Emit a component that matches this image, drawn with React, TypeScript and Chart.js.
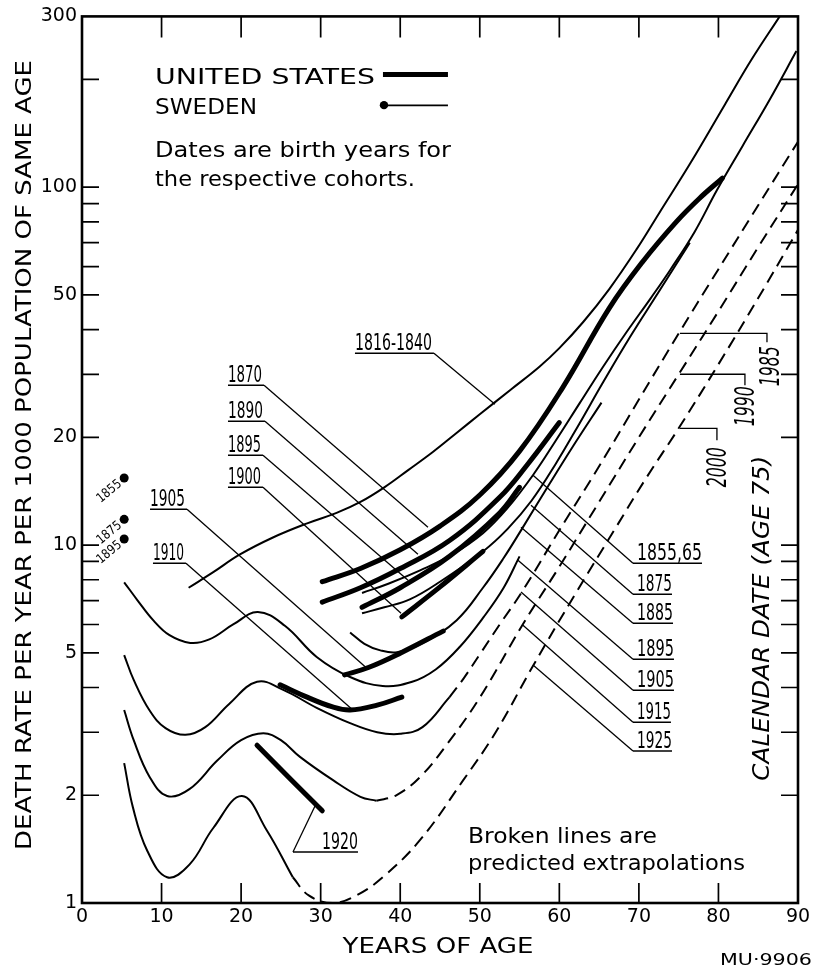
import React, { useEffect, useRef } from 'react';
import { Chart, registerables } from 'chart.js';

Chart.register(...registerables);

type P = [number, number];

// ---------- axes ----------
const ageMin = 0;
const ageMax = 90;
const rateMin = 1;
const rateMax = 300;
const rateTickLabels = [1, 2, 5, 10, 20, 50, 100, 300];
const rateMinorTicks = [2, 3, 4, 5, 6, 7, 8, 9, 10, 20, 30, 40, 50, 60, 70, 80, 90, 100, 200];
const ageInnerTicks = [10, 20, 30, 40, 50, 60, 70, 80];

// ---------- Sweden cohorts (thin) : [age, death rate per 1000] ----------
const sweden1816_1840: P[] = [[13.4, 7.6], [16.5, 8.4], [19.8, 9.4], [24, 10.5], [28.3, 11.5], [32, 12.3], [35, 13.2], [38, 14.5], [41, 16.2], [44.1, 18.2], [47, 20.5], [50, 23.2], [54, 27.3], [57.5, 31.5], [60, 35.5], [63, 42], [66.3, 52], [69.7, 67], [72.6, 85], [76.5, 117], [80.8, 170], [84.2, 228], [87.7, 300]];
const sweden1855_65: P[] = [[35.2, 7.35], [38.5, 7.8], [42.5, 8.5], [46.5, 9.4], [50.4, 10.8], [53.5, 12.7], [56.7, 15.7], [59.5, 19.5], [62.6, 25], [65.5, 31.5], [68.5, 39.5], [71.5, 49], [74, 59], [77, 75], [79.8, 98], [83, 130], [86.4, 175], [89.8, 240]];
const sweden1875: P[] = [[35.2, 6.45], [38, 6.7], [41.2, 7.05], [45, 7.9], [50.4, 9.6], [53.5, 11.1], [56.5, 13.3], [59.5, 16.8], [62.5, 21.8], [65.5, 28.5], [69, 38.5], [72.5, 51], [76.4, 70]];
const sweden1885: P[] = [[33.7, 5.7], [35.5, 5.3], [37.5, 5.08], [39.6, 5.02], [42.8, 5.32], [47.1, 6.17], [50.4, 7.6], [53, 9.2], [55.3, 11.1], [58.5, 14.5], [61.8, 19], [65.3, 25]];
const sweden1895: P[] = [[5.3, 7.87], [7, 7.0], [9, 6.15], [11, 5.6], [13.6, 5.33], [16, 5.45], [19, 6.0], [22.1, 6.5], [25.5, 5.95], [29.5, 4.87], [33.7, 4.28], [37.8, 4.04], [41.5, 4.15], [44.5, 4.5], [47.5, 5.2], [50.5, 6.3], [53, 7.6], [55, 9.3]];
const sweden1905: P[] = [[5.3, 4.93], [6.5, 4.2], [8.5, 3.45], [10.5, 3.08], [13, 2.95], [15.5, 3.1], [18.5, 3.6], [22, 4.15], [25.3, 3.94], [29.5, 3.51], [33.7, 3.18], [37.1, 3.0], [40, 2.97], [42.8, 3.1], [46.2, 3.76]];
const sweden1905Predicted: P[] = [[46.2, 3.76], [48, 4.25], [50, 4.95], [52.5, 6.0], [55.3, 7.4], [60, 11.0], [65, 16.6], [70, 25.5], [75, 39], [80, 59], [85, 89], [90, 134]];
const sweden1915: P[] = [[5.3, 3.46], [6.5, 2.85], [8.5, 2.25], [10.7, 1.99], [13.5, 2.08], [17, 2.5], [20, 2.85], [22.8, 2.98], [25, 2.85], [27.4, 2.56], [31.6, 2.2], [35, 1.98], [37, 1.93]];
const sweden1915Predicted: P[] = [[37, 1.93], [39.5, 2.0], [42.5, 2.25], [46, 2.8], [50, 3.75], [55.4, 6.0], [60, 8.7], [65, 13.2], [70, 20], [75, 30], [80, 45], [85, 68], [90, 102]];
const sweden1925: P[] = [[5.3, 2.46], [6.4, 1.85], [8.2, 1.4], [10.7, 1.18], [13.5, 1.28], [16.5, 1.62], [20.1, 1.99], [23.2, 1.6], [26.5, 1.18]];
const sweden1925Predicted: P[] = [[26.5, 1.18], [28.5, 1.05], [31.5, 1.0], [34.5, 1.05], [37.8, 1.18], [42.5, 1.5], [47.9, 2.2], [52, 3.0], [56.7, 4.6], [62, 7.3], [67, 11.1], [71, 15.5], [75, 21.2], [80, 32], [85, 49], [90, 76]];

// Sweden rates at age 5 (dots)
const swedenAge5Cohorts = ['1855', '1875', '1895'];
const swedenAge5Ages = [5.3, 5.3, 5.3];
const swedenAge5Rates = [15.4, 11.8, 10.4];

// ---------- United States cohorts (thick) ----------
const us1870: P[] = [[30.2, 7.9], [35, 8.6], [40, 9.7], [45, 11.3], [50, 13.8], [55, 18.3], [60.4, 27.5], [66.3, 46], [70.5, 62], [74.7, 80], [77.6, 93], [80.5, 106]];
const us1890: P[] = [[30.2, 6.93], [35, 7.6], [40, 8.6], [46.2, 10.3], [52.5, 13.6], [56, 16.8], [60, 22]];
const us1895: P[] = [[35.2, 6.7], [40, 7.6], [46.2, 9.3], [52.5, 12.3], [55, 14.5]];
const us1900: P[] = [[40.2, 6.3], [45, 7.64], [50.4, 9.6]];
const us1905: P[] = [[33, 4.34], [36, 4.55], [40, 4.99], [45.4, 5.75]];
const us1910: P[] = [[24.9, 4.07], [28.3, 3.76], [31.5, 3.53], [33.7, 3.46], [37.1, 3.57], [40.2, 3.76]];
const us1920: P[] = [[22, 2.76], [26.1, 2.23], [30.2, 1.81]];

// ---------- annotation text ----------
type Lbl = { text: string; x0: number; x1: number; r: number; to: P; side: 'left' | 'right'; tx?: number };
const cohortLabels: Lbl[] = [
  { text: '1816-1840', x0: 34.31, x1: 44.24, r: 34.35, to: [51.91, 24.75], side: 'left' },
  { text: '1870', x0: 18.35, x1: 22.88, r: 27.96, to: [43.49, 11.22], side: 'left' },
  { text: '1890', x0: 18.35, x1: 23.0, r: 22.18, to: [42.23, 9.43], side: 'left' },
  { text: '1895', x0: 18.35, x1: 22.75, r: 17.83, to: [40.98, 7.98], side: 'left' },
  { text: '1900', x0: 18.35, x1: 22.75, r: 14.51, to: [40.1, 6.45], side: 'left' },
  { text: '1905', x0: 8.55, x1: 13.2, r: 12.6, to: [35.95, 4.5], side: 'left' },
  { text: '1910', x0: 8.92, x1: 13.07, r: 8.9, to: [33.94, 3.48], side: 'left' },
  { text: '1920', x0: 26.52, x1: 34.69, r: 1.388, to: [29.29, 1.866], side: 'right', tx: 30.17 },
  { text: '1855,65', x0: 69.26, x1: 77.93, r: 8.9, to: [56.69, 15.67], side: 'right', tx: 69.76 },
  { text: '1875', x0: 69.26, x1: 74.16, r: 7.29, to: [56.44, 12.93], side: 'right', tx: 69.76 },
  { text: '1885', x0: 69.26, x1: 74.29, r: 6.05, to: [55.18, 11.22], side: 'right', tx: 69.76 },
  { text: '1895', x0: 69.26, x1: 74.41, r: 4.8, to: [54.8, 9.07], side: 'right', tx: 69.76 },
  { text: '1905', x0: 69.26, x1: 74.41, r: 3.93, to: [55.18, 7.39], side: 'right', tx: 69.76 },
  { text: '1915', x0: 69.26, x1: 74.03, r: 3.2, to: [55.43, 5.97], side: 'right', tx: 69.76 },
  { text: '1925', x0: 69.26, x1: 74.16, r: 2.66, to: [56.69, 4.62], side: 'right', tx: 69.76 },
];

const calendarYears = ['1985', '1990', '2000'];
const calendarLeaders: P[][] = [
  [[75.16, 39.06], [86.1, 39.06], [86.1, 36.87]],
  [[75.16, 30.01], [83.33, 30.01], [83.33, 27.96]],
  [[75.16, 21.2], [79.81, 21.2], [79.81, 19.63]],
];
const calendarLabelAt: P[] = [[86.73, 31.6], [83.58, 24.43], [80.07, 16.5]];

function toXY(d: P[]) {
  return d.map(([x, y]) => ({ x, y }));
}

function fitText(
  ctx: CanvasRenderingContext2D, text: string, x: number, y: number, width: number,
  font: string, align: 'left' | 'center' | 'right' = 'left', rot = 0, baseline: CanvasTextBaseline = 'alphabetic'
) {
  ctx.save();
  ctx.font = font;
  ctx.textBaseline = baseline;
  ctx.textAlign = 'left';
  const w = ctx.measureText(text).width;
  const sx = width / w;
  ctx.translate(x, y);
  ctx.rotate(rot);
  ctx.scale(sx, 1);
  const off = align === 'left' ? 0 : align === 'center' ? -w / 2 : -w;
  ctx.fillText(text, off, 0);
  ctx.restore();
}

const decor = {
  id: 'decor',
  afterDatasetsDraw(chart: any) {
    const { ctx, chartArea: a, scales } = chart;
    const px = (v: number) => scales.x.getPixelForValue(v);
    const py = (v: number) => scales.y.getPixelForValue(v);
    ctx.save();
    ctx.strokeStyle = '#000';
    ctx.fillStyle = '#000';
    ctx.lineCap = 'butt';

    // frame
    ctx.lineWidth = 2.6;
    ctx.strokeRect(a.left, a.top, a.right - a.left, a.bottom - a.top);

    // inward ticks
    ctx.lineWidth = 1.7;
    ctx.beginPath();
    rateMinorTicks.forEach((v) => {
      const y = py(v);
      ctx.moveTo(a.left, y); ctx.lineTo(a.left + 17, y);
      ctx.moveTo(a.right, y); ctx.lineTo(a.right - 17, y);
    });
    ageInnerTicks.forEach((v) => {
      const x = px(v);
      ctx.moveTo(x, a.bottom); ctx.lineTo(x, a.bottom - 20);
      ctx.moveTo(x, a.top); ctx.lineTo(x, a.top + 21);
    });
    ctx.stroke();

    // cohort labels with underline + leader
    const numFont = '23px "DejaVu Sans"';
    cohortLabels.forEach((l) => {
      const ux0 = px(l.x0), ux1 = px(l.x1), uy = py(l.r);
      ctx.lineWidth = 1.5;
      ctx.beginPath();
      ctx.moveTo(ux0, uy); ctx.lineTo(ux1, uy);
      ctx.stroke();
      ctx.lineWidth = 1.3;
      ctx.beginPath();
      const sx = l.side === 'left' ? ux1 : ux0;
      ctx.moveTo(sx, uy); ctx.lineTo(px(l.to[0]), py(l.to[1]));
      ctx.stroke();
      const tx = l.tx !== undefined ? px(l.tx) : ux0;
      const tw = (l.side === 'left' ? ux1 - 2 : ux1) - tx;
      fitText(ctx, l.text, tx, uy - 3, tw, numFont);
    });

    // Sweden age-5 dot labels
    swedenAge5Cohorts.forEach((c, i) => {
      const x = px(swedenAge5Ages[i]), y = py(swedenAge5Rates[i]);
      ctx.save();
      ctx.translate(x, y);
      ctx.rotate(-0.69);
      ctx.font = '13px "DejaVu Sans"';
      ctx.textAlign = 'right';
      ctx.textBaseline = 'middle';
      ctx.scale(0.85, 1);
      ctx.fillText(c, -7, 1);
      ctx.restore();
    });

    // calendar date leaders + labels
    ctx.lineWidth = 1.3;
    calendarLeaders.forEach((seg) => {
      ctx.beginPath();
      seg.forEach(([ag, r], j) => (j ? ctx.lineTo(px(ag), py(r)) : ctx.moveTo(px(ag), py(r))));
      ctx.stroke();
    });
    calendarYears.forEach((t, i) => {
      fitText(ctx, t, px(calendarLabelAt[i][0]), py(calendarLabelAt[i][1]), 40,
        'italic 26px "DejaVu Sans"', 'center', -Math.PI / 2, 'middle');
    });
    fitText(ctx, 'CALENDAR DATE (AGE 75)', px(85.6), py(6.25), 325,
      'italic 23px "DejaVu Sans"', 'center', -Math.PI / 2, 'middle');

    // legend
    const legFont = '22px "DejaVu Sans"';
    fitText(ctx, 'UNITED STATES', px(9.18), py(193.7), 220, legFont);
    fitText(ctx, 'SWEDEN', px(9.18), py(159.7), 102, legFont);
    ctx.lineWidth = 5;
    ctx.beginPath();
    ctx.moveTo(px(37.83), py(206.5)); ctx.lineTo(px(46.0), py(206.5));
    ctx.stroke();
    ctx.lineWidth = 1.6;
    ctx.beginPath();
    ctx.moveTo(px(37.96), py(169.2)); ctx.lineTo(px(46.0), py(169.2));
    ctx.stroke();
    ctx.beginPath();
    ctx.arc(px(37.96), py(169.5), 4.2, 0, Math.PI * 2);
    ctx.fill();

    const noteFont = '21px "DejaVu Sans"';
    fitText(ctx, 'Dates are birth years for', px(9.18), py(121.1), 296, noteFont);
    fitText(ctx, 'the respective cohorts.', px(9.18), py(100.5), 260, noteFont);
    fitText(ctx, 'Broken lines are', px(48.52), py(1.471), 189, noteFont);
    fitText(ctx, 'predicted extrapolations', px(48.52), py(1.236), 277, noteFont);

    // axis titles (outside plot)
    fitText(ctx, 'YEARS OF AGE', (a.left + a.right) / 2 - 2, a.bottom + 50, 191, '22px "DejaVu Sans"', 'center');
    fitText(ctx, 'DEATH RATE PER YEAR PER 1000 POPULATION OF SAME AGE', 25, 455, 790,
      '22px "DejaVu Sans"', 'center', -Math.PI / 2, 'middle');
    fitText(ctx, 'MU·9906', a.right + 14, a.bottom + 62, 92, '16px "DejaVu Sans"', 'right');
    ctx.restore();
  },
};

export default function App() {
  const ref = useRef<HTMLCanvasElement | null>(null);
  useEffect(() => {
    if (!ref.current) return;
    const thin = (d: P[], dashed = false) => ({
      data: toXY(d), borderColor: '#000', borderWidth: 2, pointRadius: 0, fill: false,
      tension: 0.4, borderDash: dashed ? [12, 7] : [],
    });
    const thick = (d: P[]) => ({
      data: toXY(d), borderColor: '#000', borderWidth: 5, pointRadius: 0, fill: false,
      tension: 0.4, borderCapStyle: 'round' as const,
    });
    const chart = new Chart(ref.current, {
      type: 'line',
      data: {
        datasets: [
          thin(sweden1816_1840), thin(sweden1855_65), thin(sweden1875), thin(sweden1885),
          thin(sweden1895), thin(sweden1905), thin(sweden1905Predicted, true),
          thin(sweden1915), thin(sweden1915Predicted, true),
          thin(sweden1925), thin(sweden1925Predicted, true),
          thick(us1870), thick(us1890), thick(us1895), thick(us1900),
          thick(us1905), thick(us1910), thick(us1920),
          {
            data: swedenAge5Ages.map((x, i) => ({ x, y: swedenAge5Rates[i] })),
            showLine: false, pointRadius: 4.5, pointBackgroundColor: '#000', pointBorderWidth: 0,
            borderColor: '#000',
          } as any,
        ],
      },
      options: {
        animation: false,
        responsive: false,
        devicePixelRatio: 1,
        layout: { padding: { top: 16, right: 19, left: 0, bottom: 0 } },
        plugins: { legend: { display: false }, tooltip: { enabled: false } },
        scales: {
          x: {
            type: 'linear', min: ageMin, max: ageMax,
            grid: { display: false, drawTicks: false },
            border: { display: false },
            ticks: { stepSize: 10, autoSkip: false, maxRotation: 0, padding: 3, color: '#000', font: { family: 'DejaVu Sans', size: 19 } },
            afterFit: (s: any) => { s.height = 66; },
          },
          y: {
            type: 'logarithmic', min: rateMin, max: rateMax,
            grid: { display: false, drawTicks: false },
            border: { display: false },
            afterBuildTicks: (s: any) => { s.ticks = rateTickLabels.map((v) => ({ value: v })); },
            ticks: { autoSkip: false, padding: 5, color: '#000', font: { family: 'DejaVu Sans', size: 19 }, callback: (v: any) => String(v) },
            afterFit: (s: any) => { s.width = 82; },
          },
        },
      },
      plugins: [decor],
    });
    return () => chart.destroy();
  }, []);
  return (
    <div style={{ position: 'absolute', left: 0, top: 0, width: 817, height: 969, background: '#fff' }}>
      <canvas ref={ref} width={817} height={969} />
    </div>
  );
}
